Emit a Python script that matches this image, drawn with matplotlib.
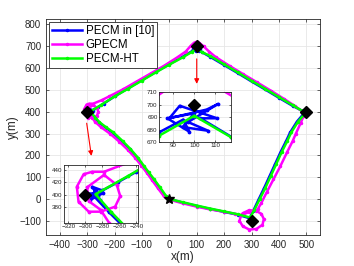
import numpy as np
import matplotlib
matplotlib.use("Agg")
import matplotlib.pyplot as plt

plt.rcParams['font.family'] = ['Liberation Sans', 'DejaVu Sans']

# vertices of the route
vert_x = [-300, 100, 500, 300]
vert_y = [400, 700, 400, -100]
start_x, start_y = 0, 0

# PECM in [10]
blue_x = [0, 50, 100, 150, 200, 250, 293,
          306, 326, 346, 366, 386, 406, 426, 441, 466, 495,
          450, 400, 350, 300, 250, 200, 150, 117.6,
          103, 111, 93, 88, 106, 111.5, 97, 106.7, 94.4, 100, 87, 97.6, 94.7, 83,
          50, 0, -50, -100, -150, -200, -240, -262, -280,
          -292, -285, -296, -279, -294, -288, -283, -290,
          -272, -256, -232, -206, -172, -144, -117, -95, -77, -58, -37, -14, 0]
blue_y = [0, -17, -32, -46, -59, -72, -88,
          -55, -2, 50, 105, 160, 215, 265, 305, 355, 398,
          427, 464, 502, 539, 577, 614, 651, 674.4,
          689, 689, 699, 689, 696, 700.5, 686, 679, 682, 693, 689, 678.3, 688, 677.7,
          653, 618, 582, 545, 508, 470, 437, 420, 407,
          413, 398, 402, 403, 392, 408, 392, 398,
          372, 350, 327, 303, 263, 227, 188, 150, 120, 89, 53, 12, 0]

# GPECM
mag_x = [0, 50, 100, 150, 200, 240,
         262, 256, 268, 292, 318, 340, 345, 336, 315, 290, 268, 262, 290, 322,
         335, 355, 380, 405, 430, 450, 462, 480, 490, 486, 460,
         420, 370, 320, 270, 220, 170, 145, 125, 110, 100, 90, 78, 60, 30,
         -20, -70, -120, -170, -220, -247,
         -278, -292, -302, -310, -308, -296, -282, -265, -259, -263, -278, -298, -296, -282, -272,
         -250, -215, -182, -152, -124, -102, -82, -64, -42, -20, 0]
mag_y = [-3, -20, -35, -48, -58, -68,
         -75, -100, -125, -140, -137, -118, -92, -68, -53, -52, -65, -75, -60, -48,
         -20, 30, 90, 150, 215, 265, 300, 350, 380, 400, 425,
         458, 497, 535, 572, 610, 650, 676, 700, 715, 721, 716, 702, 676, 650,
         610, 574, 538, 502, 470, 453,
         437, 437, 433, 413, 389, 373, 373, 381, 398, 416, 432, 412, 390, 376, 355,
         330, 298, 262, 226, 188, 153, 120, 88, 50, 13, -3]

# PECM-HT
grn_x = [0, 50, 100, 150, 200, 250, 295,
         310, 330, 350, 370, 390, 410, 430, 445, 470, 497,
         450, 400, 350, 300, 250, 200, 150, 117.6, 100,
         83, 50, 0, -50, -100, -150, -200, -250, -288,
         -270, -255, -230, -204, -170, -142, -115, -93, -75, -56, -35, -12, 0]
grn_y = [0, -15, -30, -44, -57, -70, -85,
         -50, 0, 50, 105, 160, 215, 265, 305, 355, 395,
         430, 467, 505, 542, 580, 617, 655, 674, 691,
         675, 650, 616, 580, 543, 506, 470, 430, 401,
         373, 352, 328, 305, 265, 229, 190, 152, 122, 91, 55, 14, 0]

labels = ['PECM in [10]', 'GPECM', 'PECM-HT']


def draw(ax, lw, ms, vms, sms):
    ax.plot(blue_x, blue_y, '-', color=(0, 0, 1), lw=lw, marker='.', ms=ms, label=labels[0])
    ax.plot(mag_x, mag_y, '-', color=(1, 0, 1), lw=lw, marker='.', ms=ms, label=labels[1])
    ax.plot(grn_x, grn_y, '-', color=(0, 1, 0), lw=lw, marker='.', ms=ms, label=labels[2])
    ax.plot(vert_x, vert_y, 'kD', ms=vms, ls='none')
    ax.plot(start_x, start_y, 'k*', ms=sms, ls='none')
    ax.grid(True, color='#e6e6e6', lw=0.6)
    ax.set_axisbelow(True)
    ax.tick_params(direction='in', top=True, right=True, colors='#262626', width=0.5)
    for s in ax.spines.values():
        s.set_color('#262626')
        s.set_linewidth(0.6)


fig = plt.figure(figsize=(3.54, 2.66), dpi=100)
ax = fig.add_axes([0.130, 0.1165, 0.774, 0.812])
draw(ax, 1.8, 3, 6, 7.5)
ax.set_xlim(-450, 550)
ax.set_ylim(-165, 825)
ax.set_xticks(np.arange(-400, 501, 100))
ax.set_yticks(np.arange(-100, 801, 100))
ax.tick_params(labelsize=7, length=2.5)
ax.set_xlabel('x(m)', fontsize=8.5, color='#262626', labelpad=1)
ax.set_ylabel('y(m)', fontsize=8.5, color='#262626', labelpad=0)
leg = ax.legend(loc='upper left', fontsize=8.3, handlelength=2.6, handletextpad=0.3,
                borderpad=0.25, labelspacing=0.15, borderaxespad=0.3, fancybox=False,
                framealpha=1, edgecolor='#262626')
leg.get_frame().set_linewidth(0.6)

# arrows to the insets
ax.annotate('', xy=(100, 515), xytext=(100, 655),
            arrowprops=dict(arrowstyle='-|>', color='red', lw=0.8, mutation_scale=7))
ax.annotate('', xy=(-283, 185), xytext=(-303, 360),
            arrowprops=dict(arrowstyle='-|>', color='red', lw=0.8, mutation_scale=7))

ins1 = fig.add_axes([0.449, 0.466, 0.203, 0.188])
draw(ins1, 1.8, 3.5, 6, 7)
ins1.set_xlim(83, 117.6)
ins1.set_ylim(670, 710)
ins1.set_xticks([90, 100, 110])
ins1.set_yticks([670, 680, 690, 700, 710])
ins1.tick_params(labelsize=4.5, length=1.5, pad=1)

ins2 = fig.add_axes([0.181, 0.162, 0.209, 0.218])
draw(ins2, 1.8, 3.5, 6, 7)
ins2.set_xlim(-325, -238)
ins2.set_ylim(355, 448)
ins2.set_xticks([-320, -300, -280, -260, -240])
ins2.set_yticks([380, 400, 420, 440])
ins2.tick_params(labelsize=4.5, length=1.5, pad=1)

fig.savefig('out.png', dpi=100)
